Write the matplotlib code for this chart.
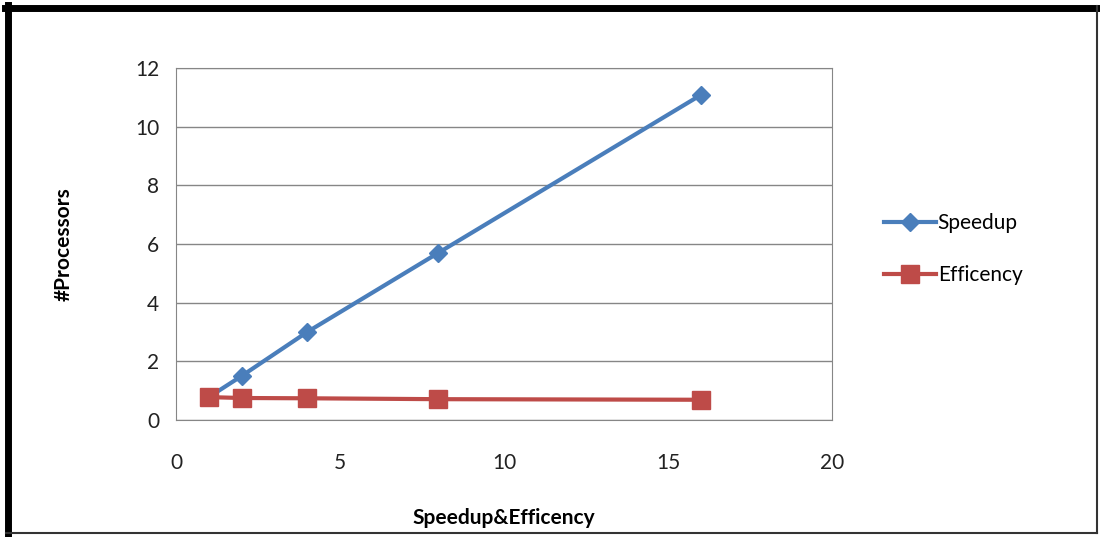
import matplotlib.pyplot as plt
from matplotlib.lines import Line2D

plt.rcParams['font.family'] = ['Lato', 'DejaVu Sans']

processors = [1, 2, 4, 8, 16]
speedup = [0.78, 1.5, 3.0, 5.7, 11.08]
efficiency = [0.78, 0.75, 0.74, 0.71, 0.69]

fig = plt.figure(figsize=(11, 5.37), dpi=100)
ax = fig.add_axes([176 / 1100, 1 - 420 / 537, 656 / 1100, 352 / 537])

ax.plot(processors, speedup, color='#4A7EBB', lw=3, marker='D', ms=9,
        label='Speedup', zorder=3)
ax.plot(processors, efficiency, color='#BE4B48', lw=3, marker='s', ms=13,
        label='Efficency', zorder=3)

ax.set_xlim(0, 20)
ax.set_ylim(0, 12)
ax.set_xticks([0, 5, 10, 15, 20])
ax.set_yticks(range(0, 13, 2))
ax.grid(axis='y', color='#868686', lw=1)
ax.set_axisbelow(True)
for s in ax.spines.values():
    s.set_color('#868686')
ax.tick_params(length=0, labelsize=15, colors='#222222', pad=12)
ax.tick_params(axis='x', pad=24)

ax.set_xlabel('Speedup&Efficency', fontsize=15, fontweight='bold', labelpad=25)
ax.set_ylabel('#Processors', fontsize=15, fontweight='bold', labelpad=44)

ax.legend(loc='center left', bbox_to_anchor=(1.05, 0.485), frameon=False,
          fontsize=15, handlelength=2.5, labelspacing=1.55, handletextpad=0.1)

# chart frame
W, H = 1100, 537
fig.add_artist(Line2D([8 / W, 8 / W], [1 - 5 / H, 1 - 534 / H], color='black', lw=5))
fig.add_artist(Line2D([5 / W, 1097 / W], [1 - 8 / H, 1 - 8 / H], color='black', lw=5))
fig.add_artist(Line2D([1097 / W, 1097 / W], [1 - 6 / H, 1 - 533 / H], color='#333333', lw=1.5))
fig.add_artist(Line2D([6 / W, 1097 / W], [1 - 533 / H, 1 - 533 / H], color='#333333', lw=1.5))

fig.savefig('out.png', dpi=100)
